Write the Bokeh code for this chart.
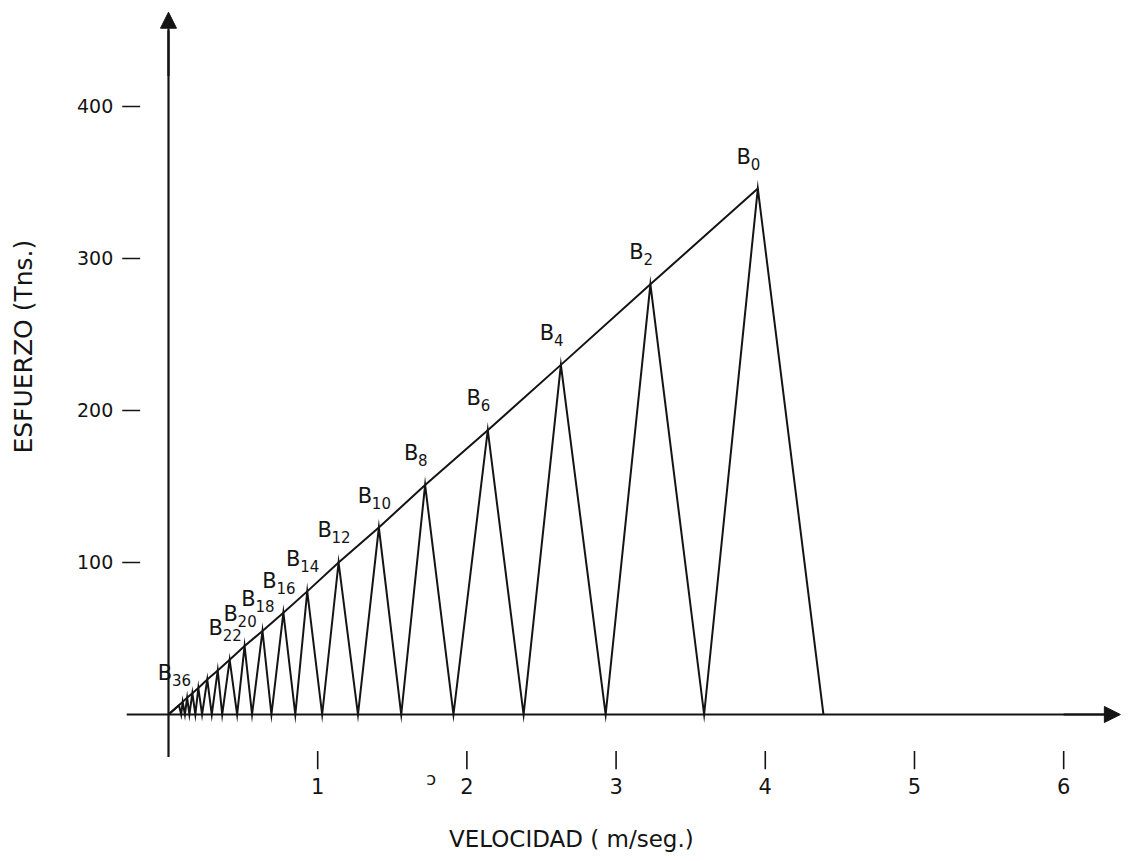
from bokeh.plotting import figure
from bokeh.models import Range1d, Arrow, NormalHead, ColumnDataSource
from bokeh.core.properties import value
from bokeh.embed import file_html
from bokeh.resources import INLINE
import math

# Peaks B0, B2, ..., B36 along the envelope (velocity m/s, effort t)
peak_names = ["0", "2", "4", "6", "8", "10", "12", "14", "16", "18",
              "20", "22", "24", "26", "28", "30", "32", "34", "36"]
peak_v = [3.95, 3.23, 2.63, 2.14, 1.72, 1.41, 1.14, 0.93, 0.77, 0.63,
          0.51, 0.41, 0.33, 0.26, 0.20, 0.16, 0.125, 0.095, 0.07]
peak_f = [346, 283, 230, 187, 151, 123, 100, 81, 67, 55,
          45, 36, 29, 23, 17.5, 14, 11, 8.3, 6.1]
# Zero-effort points between successive peaks (B1, B3, ...)
valley_v = [3.59, 2.93, 2.38, 1.91, 1.56, 1.27, 1.03, 0.85, 0.69,
            0.56, 0.46, 0.36, 0.29, 0.225, 0.18, 0.14, 0.11, 0.085]
end_v = 4.39
labelled = ["0", "2", "4", "6", "8", "10", "12", "14", "16", "18", "20", "22", "36"]

x_ticks = [1, 2, 3, 4, 5, 6]
x_tick_labels = ["1", "2", "3", "4", "5", "6"]
y_ticks = [100, 200, 300, 400]
y_tick_labels = ["100", "200", "300", "400"]

INK = "#141414"
FONT = value("DejaVu Sans")

p = figure(width=1133, height=861,
           x_range=Range1d(-1.126, 6.468), y_range=Range1d(-96.7, 469.7),
           x_axis_type=None, y_axis_type=None,
           output_backend="svg", toolbar_location=None, min_border=0)
p.outline_line_color = None
p.background_fill_color = "white"
p.border_fill_color = "white"

# axes through the origin
p.segment(x0=[-0.28, 0], y0=[0, -28], x1=[6.30, 0], y1=[0, 450],
          line_color=INK, line_width=2.2)
p.add_layout(Arrow(end=NormalHead(size=16, fill_color=INK, line_color=INK),
                   x_start=6.0, y_start=0, x_end=6.38, y_end=0,
                   line_color=INK, line_width=2.2))
p.add_layout(Arrow(end=NormalHead(size=16, fill_color=INK, line_color=INK),
                   x_start=0, y_start=420, x_end=0, y_end=462,
                   line_color=INK, line_width=2.2))

# sawtooth: origin -> B36 -> ... -> B0 -> end on the axis
saw_x = [0.0]
saw_y = [0.0]
n = len(peak_v)
for i in range(n - 1, -1, -1):
    saw_x.append(peak_v[i]); saw_y.append(peak_f[i])
    if i > 0:
        saw_x.append(valley_v[i - 1]); saw_y.append(0.0)
saw_x.append(end_v); saw_y.append(0.0)
p.line(saw_x, saw_y, line_color=INK, line_width=2, line_join="miter")

# envelope through the peaks
env_x = [0.0] + peak_v[::-1]
env_y = [0.0] + peak_f[::-1]
p.line(env_x, env_y, line_color=INK, line_width=2)

# peak labels
lab_v = [peak_v[peak_names.index(s)] for s in labelled]
lab_f = [peak_f[peak_names.index(s)] for s in labelled]
src = ColumnDataSource(dict(x=lab_v, y=lab_f, sub=labelled, b=["B"] * len(labelled)))
p.text(x="x", y="y", text="b", source=src, x_offset=-14, y_offset=-32,
       text_align="center", text_baseline="middle", text_font=FONT,
       text_font_size="21px", text_color=INK)
p.text(x="x", y="y", text="sub", source=src, x_offset=-7, y_offset=-25,
       text_align="left", text_baseline="middle", text_font=FONT,
       text_font_size="15px", text_color=INK)

# x ticks (detached marks below the axis)
p.segment(x0=x_ticks, y0=[-24] * len(x_ticks), x1=x_ticks, y1=[-36] * len(x_ticks),
          line_color=INK, line_width=1.6)
p.text(x=x_ticks, y=[-47] * len(x_ticks), text=x_tick_labels,
       text_align="center", text_baseline="middle", text_font=FONT,
       text_font_size="21px", text_color=INK)

# y ticks (dashes left of the axis)
p.segment(x0=[-0.31] * len(y_ticks), y0=y_ticks, x1=[-0.19] * len(y_ticks), y1=y_ticks,
          line_color=INK, line_width=1.6)
p.text(x=[-0.37] * len(y_ticks), y=y_ticks, text=y_tick_labels,
       text_align="right", text_baseline="middle", text_font=FONT,
       text_font_size="19px", text_color=INK)

# stray mark near the 2
p.text(x=[1.76], y=[-42], text=["ɔ"], text_align="center", text_baseline="middle",
       text_font=FONT, text_font_size="18px", text_color=INK)

# axis titles
p.text(x=[2.70], y=[-81.6], text=["VELOCIDAD ( m/seg.)"],
       text_align="center", text_baseline="middle", text_font=FONT,
       text_font_size="23px", text_color=INK)
p.text(x=[-0.972], y=[242], text=["ESFUERZO (Tns.)"], angle=math.pi / 2,
       text_align="center", text_baseline="middle", text_font=FONT,
       text_font_size="25px", text_color=INK)

open("out.html", "w").write(file_html(p, INLINE))
